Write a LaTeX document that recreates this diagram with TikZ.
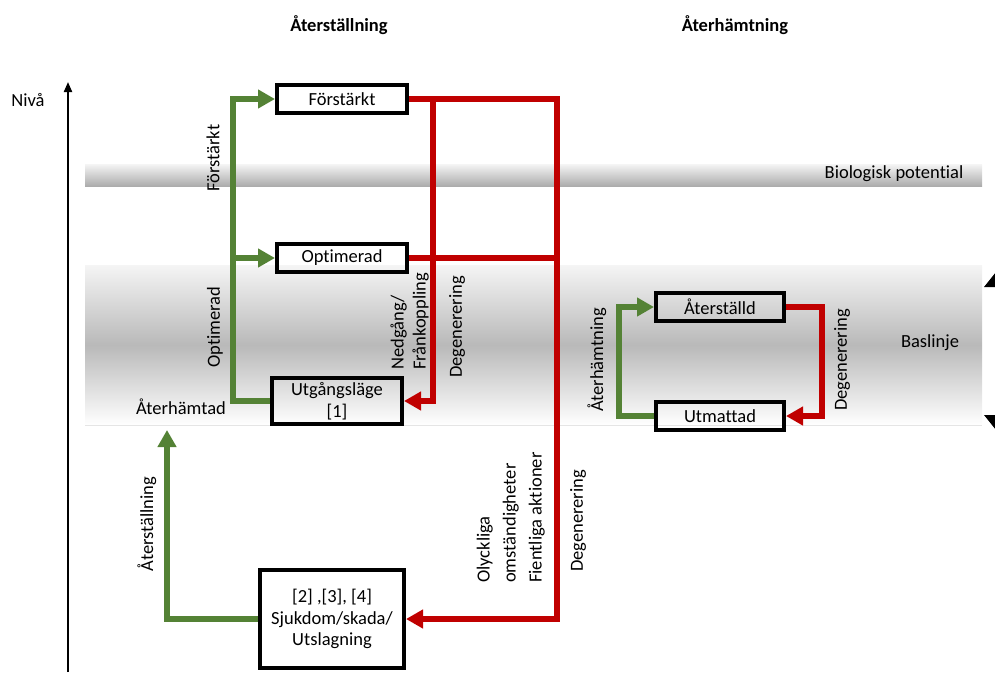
\documentclass[tikz,border=0pt]{standalone}
\usepackage{fontspec}
\setmainfont[Ligatures=NoCommon]{Carlito}
\usetikzlibrary{arrows.meta,calc}
\definecolor{grn}{HTML}{548235}
\definecolor{rd}{HTML}{C00000}
\tikzset{
  box/.style={draw=black,line width=4pt,rectangle,minimum width=130pt,minimum height=28pt,inner sep=2pt,align=center,font=\fontsize{18.5}{21.5}\selectfont},
  gline/.style={draw=grn,line width=5.5pt,line join=miter},
  rline/.style={draw=rd,line width=5.5pt,line join=miter},
  gtip/.style={-{Triangle[length=17pt,width=18pt]}},
  lbl/.style={font=\fontsize{18.5}{22}\selectfont,inner sep=0pt},
  rlbl/.style={lbl,rotate=90,align=left},
  ttl/.style={font=\fontsize{18.5}{20}\selectfont\bfseries,inner sep=0pt}
}
\begin{document}
\begin{tikzpicture}[x=1pt,y=-1pt]
\useasboundingbox (0,0) rectangle (995,672);
% bands
\shade[top color=gray!8,bottom color=gray!65] (85,164) rectangle (982,186);
\shade[top color=gray!8,bottom color=white,middle color=gray!55] (85,265) rectangle (982,425);
\draw[gray!20,line width=0.8pt] (85,425) -- (982,425);
% right edge clipped arrow tips
\fill (996,272) -- (984,287) -- (1008,287) -- cycle;
\fill (996,430) -- (984,415) -- (1008,415) -- cycle;
% titles
\node[ttl] (t1) at (339,25) {Återställning};
\node[ttl] (t2) at (735,25) {Återhämtning};
\node[lbl] (niva) at (28,100) {Nivå};
\coordinate (axb) at (68,672);
\coordinate (axt) at (68,82);
\draw[line width=2pt,-{Triangle[length=10pt,width=8pt]}] (axb) -- (axt);
\node[lbl] (biol) at (894,174) {Biologisk potential};
\node[lbl] (bas) at (930,343) {Baslinje};
% boxes
\node[box] (frk) at (342,99) {Förstärkt};
\node[box] (opt) at (342,258) {Optimerad};
\node[box,minimum height=46pt] (utg) at (337,401) {Utgångsläge\\{[1]}};
\node[box,minimum width=128pt] (ats) at (720,307) {Återställd};
\node[box,minimum width=128pt] (utm) at (720,416) {Utmattad};
\node[box,minimum width=144pt,minimum height=98pt] (sjk) at (332,619) {{[2] ,[3], [4]}\\Sjukdom/skada/\\Utslagning};
% red lines
\coordinate (rr) at (557,99);
\coordinate (rv) at (433,99);
\coordinate (rm) at (557,258);
\draw[rline,gtip] (frk.east) -- (rr) |- (sjk.east);
\draw[rline] (opt.east) -- (rm);
\draw[rline,gtip] (rv) |- (utg.east);
\draw[rline,gtip] (ats.east) -- ++(36,0) |- (utm.east);
% green lines
\coordinate (gv) at (233,258);
\draw[gline,gtip] (utg.west) -- ++(-37,0) |- (frk.west);
\draw[gline,gtip] (gv) -- (opt.west);
\coordinate (gup) at (167,430);
\draw[gline,gtip] (sjk.west) -| (gup);
\draw[gline,gtip] (utm.west) -- ++(-35,0) |- (ats.west);
% labels
\node[rlbl] (l1) at (213,158) {Förstärkt};
\node[rlbl] (l2) at (215,327) {Optimerad};
\node[lbl,anchor=east] (l3) at (226,407) {Återhämtad};
\node[rlbl,anchor=south west] (l4) at (429,370) {Nedgång/\\Frånkoppling};
\node[rlbl] (l5) at (457,327) {Degenerering};
\node[rlbl,anchor=south west,font=\fontsize{18.5}{26}\selectfont] (l6) at (545,583) {Olyckliga\\omständigheter\\Fientliga aktioner};
\node[rlbl] (l7) at (578,521) {Degenerering};
\node[rlbl] (l8) at (147,524) {Återställning};
\node[rlbl] (l9) at (597,360) {Återhämtning};
\node[rlbl] (l10) at (842,360) {Degenerering};
\end{tikzpicture}
\end{document}
